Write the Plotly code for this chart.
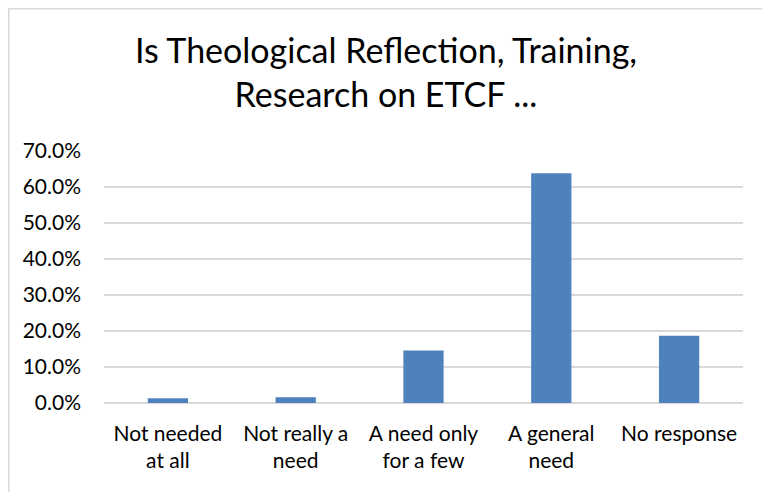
import plotly.graph_objects as go

categories = ["Not needed<br>at all", "Not really a<br>need", "A need only<br>for a few", "A general<br>need", "No response"]
values = [0.013, 0.016, 0.146, 0.638, 0.187]
tick_vals = [0, 0.1, 0.2, 0.3, 0.4, 0.5, 0.6, 0.7]
title_text = "Is Theological Reflection, Training,<br>Research on ETCF ..."

W, H = 770, 492
L, R, T, B = 96, 35, 143, 97
pw, ph = W - L - R, H - T - B

FONT = "Lato"

fig = go.Figure(go.Bar(
    x=categories, y=values,
    marker=dict(color="#4F81BD", line=dict(width=0)),
    width=0.315,
))

fig.update_layout(
    width=W, height=H,
    margin=dict(l=L, r=R, t=T, b=B, pad=0),
    paper_bgcolor="white", plot_bgcolor="white",
    showlegend=False,
    font=dict(family=FONT, color="#000000", size=21),
    title=dict(
        text=title_text,
        font=dict(family=FONT, size=34, color="#000000"),
        x=378 / W, xref="container", xanchor="center",
        y=1 - 55 / H, yref="container", yanchor="middle",
    ),
    xaxis=dict(
        showgrid=False, showline=False, ticks="",
        ticklabelstandoff=16,
        tickfont=dict(family=FONT, size=21, color="#000000"),
    ),
    yaxis=dict(
        range=[0, 0.7], tickvals=tick_vals, tickformat=".1%",
        showgrid=True, gridcolor="#D9D9D9", gridwidth=1.5,
        zeroline=True, zerolinecolor="#D9D9D9", zerolinewidth=1.5,
        showline=False, ticks="", ticklabelstandoff=22,
        tickfont=dict(family=FONT, size=21, color="#000000"),
    ),
)

# chart border
fig.add_shape(
    type="rect", xref="paper", yref="paper",
    x0=(0.75 - L) / pw, x1=(W + 10 - L) / pw,
    y0=(H - B - (H + 10)) / ph, y1=(H - B - 0.75) / ph,
    line=dict(color="#D9D9D9", width=1.5), fillcolor="rgba(0,0,0,0)",
    layer="below",
)

fig.write_html("out.html")
